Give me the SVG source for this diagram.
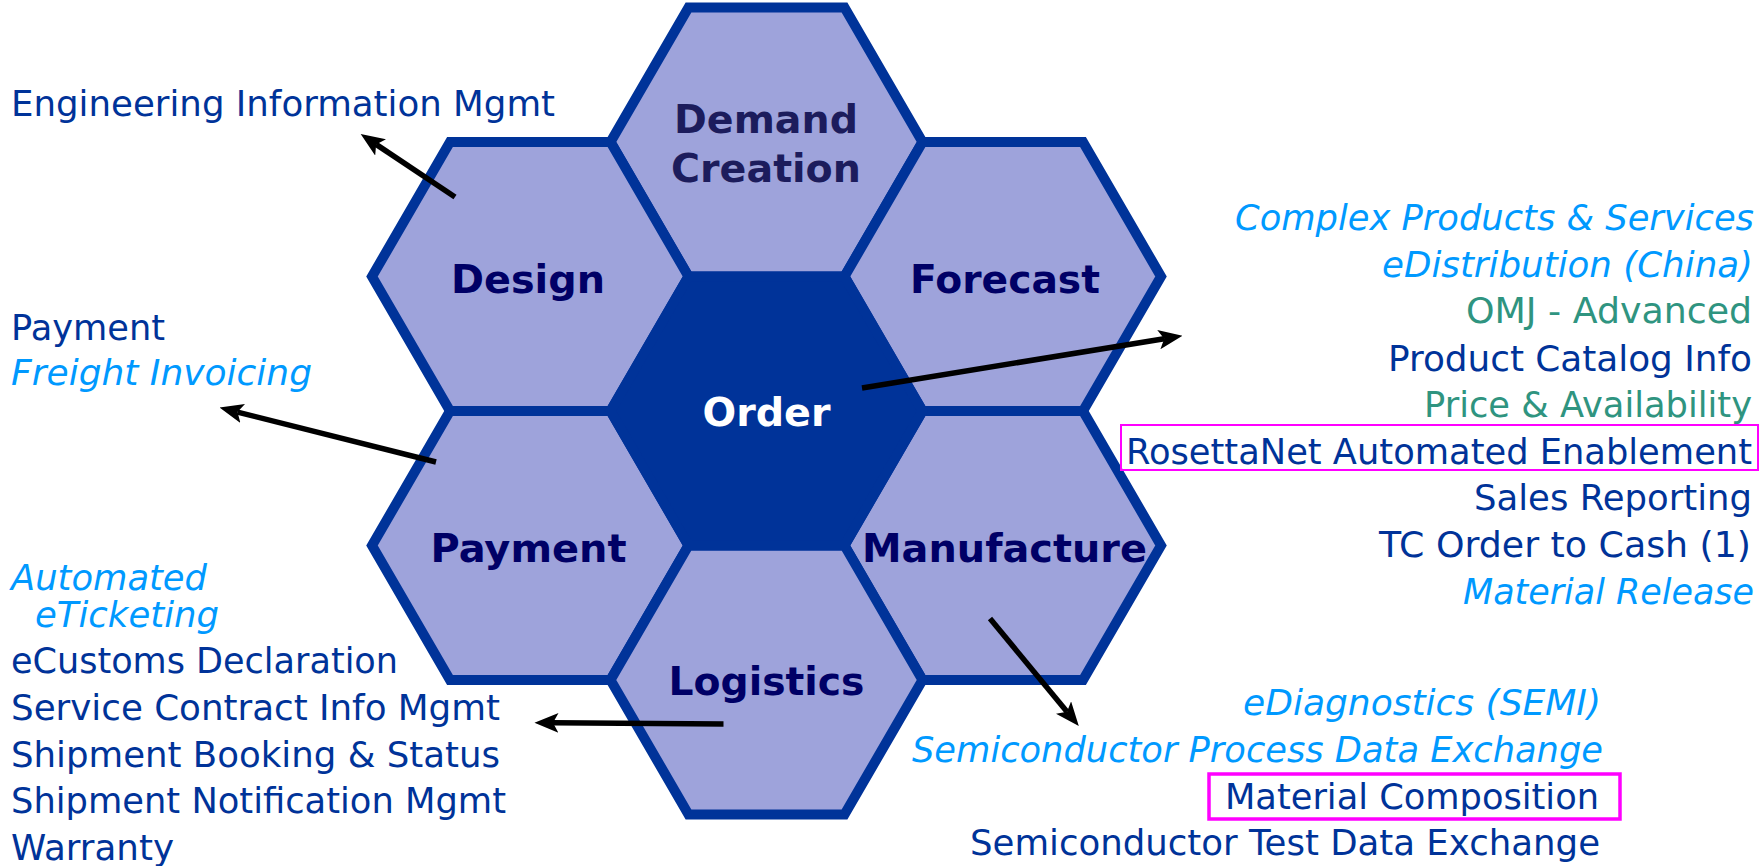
<svg xmlns="http://www.w3.org/2000/svg" width="1761" height="866" viewBox="0 0 1761 866">
<defs>
<style>
.hex{fill:#9EA3DB;stroke:#003399;stroke-width:10;stroke-linejoin:miter}
.hexd{fill:#003399;stroke:#003399;stroke-width:10;stroke-linejoin:miter}
.lbl{font-family:"DejaVu Sans",Verdana,sans-serif;font-weight:bold;font-size:39px;fill:#000066;text-anchor:middle}
.t{font-family:"DejaVu Sans",Verdana,sans-serif;font-size:35px;fill:#003399}
.i{font-family:"DejaVu Sans",Verdana,sans-serif;font-size:35px;font-style:italic;fill:#0099FF}
.g{font-family:"DejaVu Sans",Verdana,sans-serif;font-size:35px;fill:#2F9480}
.e{text-anchor:end}
.arr{fill:none;stroke:#000;stroke-width:5.5;marker-end:url(#ah)}
.box{fill:none;stroke:#FF00FF}
</style>
<marker id="ah" markerUnits="userSpaceOnUse" markerWidth="24" markerHeight="20" viewBox="0 0 22 18" refX="5" refY="9" orient="auto">
<path d="M0,0 L22,9 L0,18 L5,9 z" fill="#000"/>
</marker>
</defs>

<g id="node-demand">
<polygon class="hex" points="688.5,7.5 844.5,7.5 922.5,142 844.5,276.5 688.5,276.5 610.5,142"/>
<text class="lbl" x="766" y="133" textLength="184" lengthAdjust="spacingAndGlyphs" style="fill:#1C1C5C">Demand</text>
<text class="lbl" x="766" y="182" textLength="190" lengthAdjust="spacingAndGlyphs" style="fill:#1C1C5C">Creation</text>
</g>
<g id="node-design">
<polygon class="hex" points="450,142 610.5,142 688.5,276.5 610.5,411 450,411 372,276.5"/>
<text class="lbl" x="528" y="293" textLength="154" lengthAdjust="spacingAndGlyphs">Design</text>
</g>
<g id="node-forecast">
<polygon class="hex" points="922.5,142 1083,142 1161,276.5 1083,411 922.5,411 844.5,276.5"/>
<text class="lbl" x="1005" y="293" textLength="190" lengthAdjust="spacingAndGlyphs">Forecast</text>
</g>
<g id="node-payment">
<polygon class="hex" points="450,411 610.5,411 688.5,545.5 610.5,680 450,680 372,545.5"/>
<text class="lbl" x="528.5" y="562" textLength="196" lengthAdjust="spacingAndGlyphs">Payment</text>
</g>
<g id="node-manufacture">
<polygon class="hex" points="922.5,411 1083,411 1161,545.5 1083,680 922.5,680 844.5,545.5"/>
<text class="lbl" x="1004.5" y="562" textLength="285" lengthAdjust="spacingAndGlyphs">Manufacture</text>
</g>
<g id="node-logistics">
<polygon class="hex" points="688.5,545.5 844.5,545.5 922.5,680 844.5,814.5 688.5,814.5 610.5,680"/>
<text class="lbl" x="766.5" y="695" textLength="196" lengthAdjust="spacingAndGlyphs">Logistics</text>
</g>
<g id="node-order">
<polygon class="hexd" points="688.5,276.5 844.5,276.5 922.5,411 844.5,545.5 688.5,545.5 610.5,411"/>
<text class="lbl" x="766.5" y="426" textLength="128" lengthAdjust="spacingAndGlyphs" style="fill:#FFFFFF">Order</text>
</g>

<g id="connectors">
<line class="arr" x1="455" y1="197" x2="376.1" y2="144.4"/>
<line class="arr" x1="436" y1="462" x2="237.5" y2="412.1"/>
<line class="arr" x1="862" y1="388" x2="1164.2" y2="338.7"/>
<line class="arr" x1="723.5" y1="724" x2="553" y2="722.8"/>
<line class="arr" x1="990" y1="618.5" x2="1067" y2="711.8"/>
</g>

<g id="list-design">
<text class="t" x="11" y="116" textLength="544" lengthAdjust="spacingAndGlyphs">Engineering Information Mgmt</text>
</g>
<g id="list-payment">
<text class="t" x="11" y="340" textLength="154" lengthAdjust="spacingAndGlyphs">Payment</text>
<text class="i" x="11" y="385" textLength="301" lengthAdjust="spacingAndGlyphs">Freight Invoicing</text>
</g>
<g id="list-logistics">
<text class="i" x="11" y="590" textLength="196" lengthAdjust="spacingAndGlyphs">Automated</text>
<text class="i" x="35" y="627" textLength="184" lengthAdjust="spacingAndGlyphs">eTicketing</text>
<text class="t" x="11" y="673" textLength="387" lengthAdjust="spacingAndGlyphs">eCustoms Declaration</text>
<text class="t" x="11" y="720" textLength="489" lengthAdjust="spacingAndGlyphs">Service Contract Info Mgmt</text>
<text class="t" x="11" y="767" textLength="489" lengthAdjust="spacingAndGlyphs">Shipment Booking &amp; Status</text>
<text class="t" x="11" y="813" textLength="495" lengthAdjust="spacingAndGlyphs">Shipment Notification Mgmt</text>
<text class="t" x="11" y="860" textLength="163" lengthAdjust="spacingAndGlyphs">Warranty</text>
</g>
<g id="list-order">
<text class="i e" x="1754" y="230" textLength="519" lengthAdjust="spacingAndGlyphs">Complex Products &amp; Services</text>
<text class="i e" x="1753" y="277" textLength="371" lengthAdjust="spacingAndGlyphs">eDistribution (China)</text>
<text class="g e" x="1752" y="323" textLength="286" lengthAdjust="spacingAndGlyphs">OMJ - Advanced</text>
<text class="t e" x="1752" y="371" textLength="364" lengthAdjust="spacingAndGlyphs">Product Catalog Info</text>
<text class="g e" x="1752" y="417" textLength="328" lengthAdjust="spacingAndGlyphs">Price &amp; Availability</text>
<rect class="box" x="1121" y="425" width="637" height="45" stroke-width="2"/>
<text class="t e" x="1752" y="464" textLength="626" lengthAdjust="spacingAndGlyphs">RosettaNet Automated Enablement</text>
<text class="t e" x="1752" y="510" textLength="278" lengthAdjust="spacingAndGlyphs">Sales Reporting</text>
<text class="t e" x="1751" y="557" textLength="372" lengthAdjust="spacingAndGlyphs">TC Order to Cash (1)</text>
<text class="i e" x="1754" y="604" textLength="291" lengthAdjust="spacingAndGlyphs">Material Release</text>
</g>
<g id="list-manufacture">
<text class="i e" x="1601" y="715" textLength="358" lengthAdjust="spacingAndGlyphs">eDiagnostics (SEMI)</text>
<text class="i e" x="1603" y="762" textLength="691" lengthAdjust="spacingAndGlyphs">Semiconductor Process Data Exchange</text>
<rect class="box" x="1209" y="774" width="411" height="45" stroke-width="3.5"/>
<text class="t e" x="1599" y="809" textLength="374" lengthAdjust="spacingAndGlyphs">Material Composition</text>
<text class="t e" x="1600" y="855" textLength="630" lengthAdjust="spacingAndGlyphs">Semiconductor Test Data Exchange</text>
</g>
</svg>
